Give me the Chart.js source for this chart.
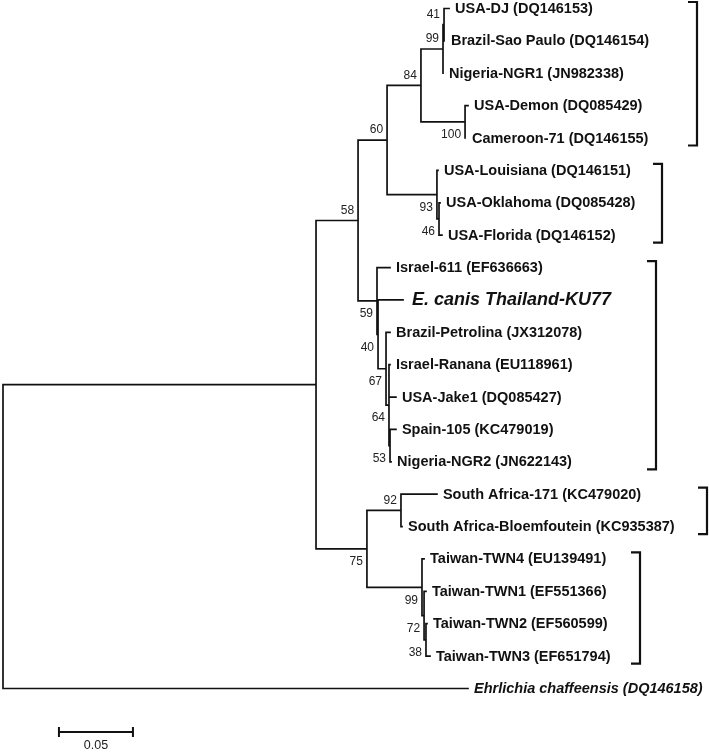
<!DOCTYPE html>
<html>
<head>
<meta charset="utf-8">
<script src="https://cdn.jsdelivr.net/npm/chart.js@4.4.0/dist/chart.umd.min.js"></script>
<style>
    html, body { margin: 0; padding: 0; background: #fff; }
    canvas { display: block; }
</style>
</head>
<body>
<canvas id="arbre" width="709" height="752"></canvas>
<script>
// --- DONNÉES DE L'ARBRE ---
// Feuilles (de haut en bas), leur noeud parent et leur longueur de branche
const taxa = [
    'USA-DJ (DQ146153)', 'Brazil-Sao Paulo (DQ146154)', 'Nigeria-NGR1 (JN982338)',
    'USA-Demon (DQ085429)', 'Cameroon-71 (DQ146155)',
    'USA-Louisiana (DQ146151)', 'USA-Oklahoma (DQ085428)', 'USA-Florida (DQ146152)',
    'Israel-611 (EF636663)', 'E. canis Thailand-KU77', 'Brazil-Petrolina (JX312078)',
    'Israel-Ranana (EU118961)', 'USA-Jake1 (DQ085427)', 'Spain-105 (KC479019)', 'Nigeria-NGR2 (JN622143)',
    'South Africa-171 (KC479020)', 'South Africa-Bloemfoutein (KC935387)',
    'Taiwan-TWN4 (EU139491)', 'Taiwan-TWN1 (EF551366)', 'Taiwan-TWN2 (EF560599)', 'Taiwan-TWN3 (EF651794)',
    'Ehrlichia chaffeensis (DQ146158)'
];
const taxonParent = [6, 6, 5, 7, 7, 8, 9, 9, 10, 11, 12, 13, 13, 14, 14, 16, 16, 17, 18, 19, 19, 0];
const taxonBranch = [0.0034, 0.0006, 0.0000, 0.0020, 0.0006, 0.0007, 0.0007, 0.0020, 0.0088, 0.0169, 0.0027,
    0.0007, 0.0047, 0.0040, 0.0007, 0.0243, 0.0007, 0.0014, 0.0013, 0.0007, 0.0027, 0.3142];

// Noeuds internes (le parent précède toujours l'enfant)
const nodeParent = [-1, 0, 1, 2, 3, 4, 5, 4, 3, 8, 2, 10, 11, 12, 13, 1, 15, 15, 17, 18];
const nodeBranch = [0, 0.2115, 0.0284, 0.0196, 0.0229, 0.0149, 0.0007, 0.0298, 0.0337, 0.0014,
    0.0128, 0.0007, 0.0054, 0.0020, 0.0007, 0.0344, 0.0230, 0.0372, 0.0014, 0.0013];
const nodeSupport = [null, null, 58, 60, 84, 99, 41, 100, 93, 46, 59, 40, 67, 64, 53, 75, 92, 99, 72, 38];

// Groupes entre crochets (première et dernière feuille)
const groupFirst = [0, 5, 8, 15, 17];
const groupLast = [4, 7, 14, 16, 20];

// Barre d'échelle
const scaleBarLength = 0.05;
const scaleBarLabel = '0.05';

// --- MISE EN PAGE ---
const PX_PAR_UNITE = 1480;
const ROOT_PX = 3;
const ROW_PX = 32.38;
const FIRST_ROW_PX = 8.5;
const W = 709, H = 752;
const BRACKET_X = [697, 662, 656, 707, 640];
const LABEL_ABOVE = [2, 3, 4, 5, 6, 16];
const FONT = '"Liberation Sans", Arial, sans-serif';
const TAXON_ETUDE = 'E. canis Thailand-KU77';
const OUTGROUP = 'Ehrlichia chaffeensis (DQ146158)';

// --- CALCUL DES PROFONDEURS ET DES POSITIONS VERTICALES ---
const nodeDepth = nodeBranch.map(() => 0);
nodeParent.forEach((p, k) => { nodeDepth[k] = p < 0 ? 0 : nodeDepth[p] + nodeBranch[k]; });
const taxonDepth = taxonBranch.map((b, i) => nodeDepth[taxonParent[i]] + b);

const nodeY = nodeParent.map(() => null);
const enfants = nodeParent.map(() => []);
taxonParent.forEach((p, i) => enfants[p].push({ feuille: true, id: i }));
nodeParent.forEach((p, k) => { if (p >= 0) enfants[p].push({ feuille: false, id: k }); });

const yDe = (e) => e.feuille ? e.id : calcY(e.id);
function calcY(k) {
    if (nodeY[k] !== null) return nodeY[k];
    const ys = enfants[k].map(yDe);
    nodeY[k] = (Math.min(...ys) + Math.max(...ys)) / 2;
    return nodeY[k];
}
calcY(0);

// Segments : un trait vertical par noeud et un horizontal par enfant
const segments = [];
nodeParent.forEach((p, k) => {
    const ys = enfants[k].map(yDe);
    segments.push({ x: nodeDepth[k], y: Math.min(...ys) }, { x: nodeDepth[k], y: Math.max(...ys) }, { x: null, y: null });
    enfants[k].forEach(e => {
        const xe = e.feuille ? taxonDepth[e.id] : nodeDepth[e.id];
        segments.push({ x: nodeDepth[k], y: yDe(e) }, { x: xe, y: yDe(e) }, { x: null, y: null });
    });
});

// --- PLUGIN POUR LES TEXTES, CROCHETS ET ÉCHELLE ---
const habillagePlugin = {
    id: 'habillage',
    afterDatasetsDraw(chart) {
        const { ctx } = chart;
        const xs = chart.scales.x, ys = chart.scales.y;
        ctx.save();
        ctx.fillStyle = '#111';
        ctx.textBaseline = 'middle';

        // Noms des taxons
        ctx.textAlign = 'left';
        taxa.forEach((nom, i) => {
            let ecart = 6;
            if (nom === TAXON_ETUDE) { ctx.font = 'italic bold 18px ' + FONT; ecart = 9; }
            else if (nom === OUTGROUP) ctx.font = 'italic bold 14.5px ' + FONT;
            else ctx.font = 'bold 14.5px ' + FONT;
            ctx.fillText(nom, xs.getPixelForValue(taxonDepth[i]) + ecart, ys.getPixelForValue(i) + 0.5);
        });

        // Valeurs de bootstrap
        ctx.font = '12px ' + FONT;
        ctx.fillStyle = '#222';
        ctx.textAlign = 'right';
        nodeSupport.forEach((v, k) => {
            if (v === null) return;
            const px = xs.getPixelForValue(nodeDepth[k]) - 4;
            const py = ys.getPixelForValue(nodeY[k]) + (LABEL_ABOVE.includes(k) ? -10 : 13);
            ctx.fillText(String(v), px, py);
        });

        // Crochets des groupes
        ctx.strokeStyle = '#111';
        ctx.lineWidth = 2.2;
        ctx.lineCap = 'butt';
        groupFirst.forEach((f, g) => {
            const bx = BRACKET_X[g];
            const top = ys.getPixelForValue(f) - 6.5;
            const bas = ys.getPixelForValue(groupLast[g]) + 7.5;
            ctx.beginPath();
            ctx.moveTo(bx - 9, top);
            ctx.lineTo(bx, top);
            ctx.lineTo(bx, bas);
            ctx.lineTo(bx - 9, bas);
            ctx.stroke();
        });

        // Barre d'échelle
        const x0 = xs.getPixelForValue(0.0378);
        const x1 = xs.getPixelForValue(0.0378 + scaleBarLength);
        const yb = 732;
        ctx.lineWidth = 2;
        ctx.beginPath();
        ctx.moveTo(x0, yb); ctx.lineTo(x1, yb);
        ctx.moveTo(x0, yb - 5); ctx.lineTo(x0, yb + 5);
        ctx.moveTo(x1, yb - 5); ctx.lineTo(x1, yb + 5);
        ctx.stroke();
        ctx.textAlign = 'center';
        ctx.font = '12.5px ' + FONT;
        ctx.fillText(scaleBarLabel, (x0 + x1) / 2, 746);
        ctx.restore();
    }
};

new Chart(document.getElementById('arbre').getContext('2d'), {
    type: 'scatter',
    data: {
        datasets: [{
            data: segments,
            showLine: true,
            spanGaps: false,
            borderColor: '#111',
            borderWidth: 1.7,
            borderCapStyle: 'square',
            pointRadius: 0,
            tension: 0
        }]
    },
    options: {
        responsive: false,
        animation: false,
        layout: { padding: 0 },
        plugins: { legend: { display: false }, tooltip: { enabled: false } },
        scales: {
            x: { type: 'linear', display: false, min: -ROOT_PX / PX_PAR_UNITE, max: (W - ROOT_PX) / PX_PAR_UNITE },
            y: { type: 'linear', display: false, reverse: true,
                 min: -FIRST_ROW_PX / ROW_PX, max: (H - FIRST_ROW_PX) / ROW_PX }
        }
    },
    plugins: [habillagePlugin]
});
</script>
</body>
</html>
